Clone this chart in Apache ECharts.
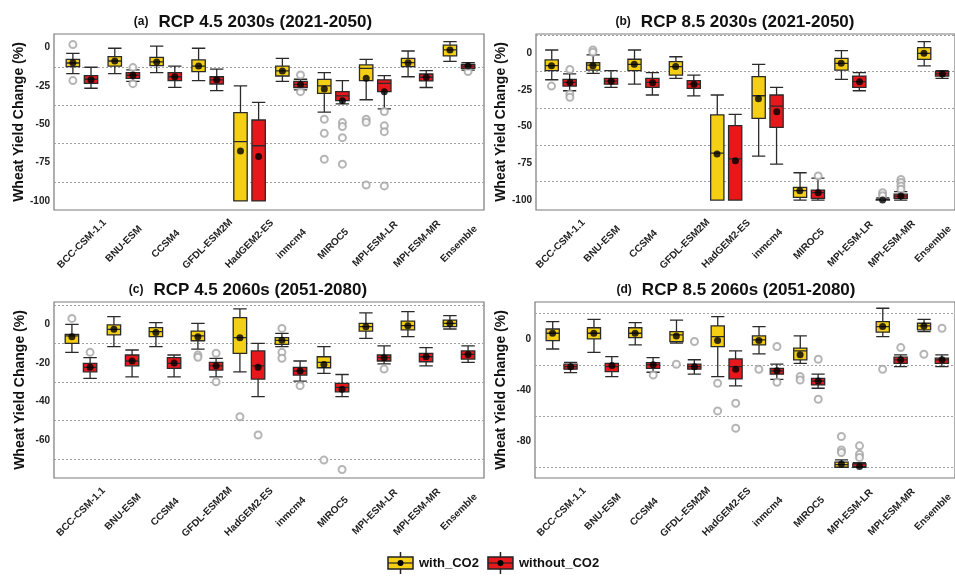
<!DOCTYPE html>
<html>
<head>
<meta charset="utf-8">
<title>Wheat Yield Change</title>
<script src="https://cdn.jsdelivr.net/npm/echarts@6/dist/echarts.min.js"></script>
<style>
html, body { margin: 0; padding: 0; background: #fff; }
#main { width: 955px; height: 579px; }
</style>
</head>
<body>
<div id="main"></div>
<script>
// GCMs on the x axis
const models = ['BCC-CSM-1.1', 'BNU-ESM', 'CCSM4', 'GFDL-ESM2M', 'HadGEM2-ES', 'inmcm4', 'MIROC5', 'MPI-ESM-LR', 'MPI-ESM-MR', 'Ensemble'];

// boxes are [min, Q1, median, Q3, max], outliers are [modelIndex, value]
// (a) RCP 4.5 2030s
const boxWithA = [[-17, -12.4, -10, -7.6, -3.7], [-17, -12, -8.7, -5.9, -0.4], [-16.3, -11.7, -9.3, -6.3, 1], [-21.5, -15.6, -12, -8, -0.4], [-100, -100, -61.3, -42.4, -25], [-22, -18.5, -15.2, -12, -7], [-42, -29.8, -25, -20.7, -16.3], [-34, -21.5, -13.5, -11.3, -7.6], [-19, -12.4, -9.8, -7, -2.2], [-9, -5.4, -1.5, 1.7, 3.9]];
const boxWithoutA = [[-26.5, -23.3, -20.6, -18.3, -12.8], [-22, -20, -18, -16.3, -14.5], [-25.9, -21.5, -19, -16.3, -12], [-28, -23.7, -21, -19, -14], [-100, -100, -64, -47.2, -35.7], [-27.6, -26, -24, -22, -20.6], [-36.7, -34.6, -31.5, -28.7, -21.5], [-40, -28.7, -23.3, -21, -18.3], [-26, -21.7, -19.3, -17.2, -15], [-14.6, -13.5, -12, -10.9, -9.8]];
const meanWithA = [-9.8, -8.7, -9.3, -12, -67.4, -15.2, -27, -20, -9.8, -1.5];
const meanWithoutA = [-21, -18, -19, -21, -71, -24, -34.6, -28.7, -19.3, -12];
const outWithA = [[0, 2], [0, -21.5], [6, -46.7], [6, -55.9], [6, -72.8], [7, -46.7], [7, -48.7], [7, -89.6]];
const outWithoutA = [[1, -13], [1, -23.5], [5, -17.8], [5, -28.7], [6, -48.9], [6, -51.5], [6, -58.7], [6, -76], [7, -41.7], [7, -51], [7, -54.8], [7, -90.2], [9, -15.6]];

// (b) RCP 8.5 2030s
const boxWithB = [[-18, -11.8, -8.4, -4.5, 2.3], [-13.6, -11.4, -8, -6.4, -1.1], [-21, -11.8, -7.5, -4, 2.3], [-17, -14.8, -9, -5.7, -2.3], [-100, -100, -68, -42, -28.4], [-70, -44.3, -28.9, -15.9, -7.5], [-100, -98.2, -93.6, -91.4, -81.4], [-17.7, -11.4, -6.8, -3.4, 1.8], [-100, -100, -100, -99.5, -98.5], [-8.6, -4.1, 0, 3.9, 8]];
const boxWithoutB = [[-25.5, -22.3, -19.8, -17.7, -14], [-23.2, -21, -18.9, -17, -11.8], [-28.4, -23.2, -19.8, -17, -13.2], [-29, -23.9, -21, -18.6, -14.8], [-100, -100, -72, -49.3, -41.6], [-75.5, -50.5, -36, -28.4, -23.2], [-100, -98.9, -95, -93.2, -85], [-25.5, -23.2, -19.3, -15.5, -13.2], [-100, -98.9, -97.3, -96, -94.3], [-17, -15.5, -14, -12.5, -11.8]];
const meanWithB = [-8.4, -8.4, -7.5, -9, -68.6, -31, -93.6, -6.8, -100, 0];
const meanWithoutB = [-19.8, -19, -20, -21, -73.2, -39.8, -95, -19.3, -97.3, -14];
const outWithB = [[0, -22.3], [1, 2.3], [1, 0.7], [8, -95], [8, -97]];
const outWithoutB = [[0, -11], [0, -27.7], [0, -30], [6, -83.6], [8, -86], [8, -88], [8, -90.5], [8, -92.7]];

// (c) RCP 4.5 2060s
const boxWithC = [[-14.5, -9.9, -6, -5.2, 0], [-11.6, -5.5, -2.6, -0.3, 4], [-11.6, -6.4, -3.8, -1.7, 0.9], [-12.8, -8.5, -6, -3.5, 0.5], [-24.6, -15, -6.9, 3.5, 8], [-11.6, -10.4, -8.3, -6.9, -4.7], [-25.4, -22.5, -19.7, -16.8, -11.6], [-7.3, -3.5, -1.2, 0.5, 6], [-6.4, -2.9, -0.7, 1.7, 6.6], [-2.4, -1.2, 0.5, 2.2, 4.5]];
const boxWithoutC = [[-28, -24.6, -22.3, -20.2, -17.3], [-27.2, -21.5, -19, -15.9, -13.3], [-27.2, -22.8, -20.2, -17.3, -15.9], [-27.2, -23.7, -21.5, -19.7, -17.6], [-37.5, -28.4, -21.5, -13.8, -9.9], [-29.4, -26.3, -24.2, -22.3, -19], [-37.5, -35, -32.7, -30.6, -26], [-20.5, -19, -17.3, -15.9, -11.2], [-21.5, -19.4, -16.8, -15, -12.1], [-19.7, -18, -15.6, -13.8, -11.2]];
const meanWithC = [-6.4, -2.6, -4.2, -6.4, -6.9, -8.3, -20.8, -1.2, -0.7, 0.5];
const meanWithoutC = [-22.3, -19, -20, -21.5, -22.3, -24.2, -33.7, -17.3, -16.8, -15.6];
const outWithC = [[0, 3.1], [3, -15.9], [3, -17.1], [4, -47.9], [5, -2.1], [5, -14.5], [5, -17.6], [6, -70.4]];
const outWithoutC = [[0, -14.5], [3, -15], [3, -29.8], [4, -57.4], [5, -31.8], [6, -75.3], [7, -23.2]];

// (d) RCP 8.5 2060s
const boxWithD = [[-7.6, -1, 4.7, 8, 13.8], [-10.2, 0.3, 4.7, 9, 15.6], [-4.4, 1.3, 4.7, 9, 13], [-3.1, -1.8, 3.4, 6, 15], [-29.2, -5.7, 2.1, 10.4, 17.7], [-11.5, -4.4, -0.5, 2.6, 9.9], [-18.8, -16.1, -9.1, -7, 2.6], [-100, -100, -98, -96, -94.3], [2.1, 5.5, 9.9, 13.8, 24.2], [6, 7.3, 10.4, 12.5, 15.6]];
const boxWithoutD = [[-26, -23.4, -21.4, -19.5, -18], [-29.2, -25.3, -21.4, -18.8, -13.5], [-25.8, -22.7, -20, -18.2, -14.3], [-27.3, -23.4, -21.4, -19.5, -16], [-36.5, -31, -21.4, -15.4, -9.1], [-31.3, -27.3, -24.7, -22.7, -19.5], [-38.3, -35.7, -32.6, -30.5, -27.3], [-100, -100, -99.5, -97.4, -96.4], [-21.4, -18.8, -16.1, -14, -12.2], [-21.4, -18.8, -16.1, -14.8, -12.2]];
const meanWithD = [4.7, 4.7, 4.7, 2.6, -1, -1, -12.2, -97.4, 9.9, 10.4];
const meanWithoutD = [-21.4, -20.6, -20, -21.4, -23.4, -24.7, -32.6, -99.5, -16.1, -16.1];
const outWithD = [[3, -19.5], [4, -34.4], [4, -56], [5, -23.4], [6, -29.2], [6, -31.8], [7, -76], [7, -86.5], [7, -88.5], [8, -23.4], [9, -11.7]];
const outWithoutD = [[2, -27.9], [3, -1.8], [4, -50], [4, -69.5], [5, -5.7], [5, -33.6], [6, -15.6], [6, -46.9], [7, -83.3], [7, -89.8], [7, -92.4], [8, -6.5], [9, 8.6]];

// y tick labels and dotted grid lines
const ticksAB = [0, -25, -50, -75, -100];
const ticksC = [0, -20, -40, -60];
const ticksD = [0, -40, -80];
const gridLinesA = [-12.5, -37.5, -62.5, -87.5];
const gridLinesB = [12.5, -12.5, -37.5, -62.5, -87.5];
const gridLinesC = [10, -10, -30, -50, -70];
const gridLinesD = [20, -20, -60, -100];

const titles = ['RCP 4.5 2030s (2021-2050)', 'RCP 8.5 2030s (2021-2050)', 'RCP 4.5 2060s (2051-2080)', 'RCP 8.5 2060s (2051-2080)'];

const YELLOW = '#F5CF14';
const RED = '#E8171B';
const FONT = '"Liberation Sans", Arial, Helvetica, sans-serif';

const panels = [
    { tag: '(a)', title: titles[0], box: [boxWithA, boxWithoutA], mean: [meanWithA, meanWithoutA], out: [outWithA, outWithoutA], ticks: ticksAB, lines: gridLinesA, range: [-105.9, 8.9], frameLeft: 54, top: 34, plotLeft: 61, plotWidth: 419, titleX: 253 },
    { tag: '(b)', title: titles[1], box: [boxWithB, boxWithoutB], mean: [meanWithB, meanWithoutB], out: [outWithB, outWithoutB], ticks: ticksAB, lines: gridLinesB, range: [-106.8, 13.2], frameLeft: 536, top: 34, plotLeft: 540, plotWidth: 424, titleX: 735 },
    { tag: '(c)', title: titles[2], box: [boxWithC, boxWithoutC], mean: [meanWithC, meanWithoutC], out: [outWithC, outWithoutC], ticks: ticksC, lines: gridLinesC, range: [-79.7, 11.6], frameLeft: 54, top: 302, plotLeft: 60, plotWidth: 420, titleX: 248 },
    { tag: '(d)', title: titles[3], box: [boxWithD, boxWithoutD], mean: [meanWithD, meanWithoutD], out: [outWithD, outWithoutD], ticks: ticksD, lines: gridLinesD, range: [-108.4, 29.1], frameLeft: 535, top: 302, plotLeft: 541, plotWidth: 419, titleX: 736 }
];

// legend icon: little box with whisker, median and mean dot
const legendIcon = (fill) => {
    const svg = "<svg xmlns='http://www.w3.org/2000/svg' width='27' height='22'>" +
        "<line x1='13.5' y1='0' x2='13.5' y2='22' stroke='#222' stroke-width='1.5'/>" +
        "<rect x='1' y='5' width='25' height='12' fill='" + fill + "' stroke='#222' stroke-width='1.5'/>" +
        "<line x1='1' y1='11' x2='26' y2='11' stroke='#222' stroke-width='1.2'/>" +
        "<circle cx='13.5' cy='11' r='3' fill='#000'/></svg>";
    return 'image://data:image/svg+xml;charset=utf-8,' + encodeURIComponent(svg);
};

const getOption = () => {
    const grid = [], xAxis = [], yAxis = [], title = [], series = [];
    const n = panels.length;
    const names = ['with_CO2', 'without_CO2'];
    const fills = [YELLOW, RED];

    panels.forEach((p, i) => {
        // frame grid: border, y labels, dotted lines
        grid[i] = { left: p.frameLeft, top: p.top, width: 430, height: 176, show: true, borderColor: '#7a7a7a', borderWidth: 1.2 };
        xAxis[i] = { gridIndex: i, type: 'value', show: false, min: 0, max: 1 };
        yAxis[i] = {
            gridIndex: i, type: 'value', min: p.range[0], max: p.range[1],
            name: 'Wheat Yield Change (%)', nameLocation: 'middle', nameGap: 27,
            nameTextStyle: { fontSize: 14, fontWeight: 'bold', color: '#111' },
            axisLine: { show: false },
            axisTick: { show: false, customValues: p.lines },
            axisLabel: { customValues: p.ticks, fontSize: 10, fontWeight: 'bold', color: '#222', margin: 4 },
            splitLine: { show: true, lineStyle: { type: [2, 2], color: '#a0a0a0', width: 1 } }
        };
        // data grid: category positions
        grid[n + i] = { left: p.plotLeft, top: p.top, width: p.plotWidth, height: 176, show: false };
        xAxis[n + i] = {
            gridIndex: n + i, type: 'category', data: models,
            axisLine: { show: false }, axisTick: { show: false }, splitLine: { show: false },
            axisLabel: { interval: 0, rotate: 45, align: 'center', verticalAlign: 'middle', margin: 34, fontSize: 10, fontWeight: 'bold', color: '#222' }
        };
        yAxis[n + i] = { gridIndex: n + i, type: 'value', min: p.range[0], max: p.range[1], show: false };

        title.push({
            text: '{s|' + p.tag + '}  {b|' + p.title + '}',
            left: p.titleX, top: p.top - 21, textAlign: 'center', padding: 0,
            textStyle: { rich: { s: { fontSize: 12, fontWeight: 'bold', color: '#111', fontFamily: FONT }, b: { fontSize: 17, fontWeight: 'bold', color: '#111', fontFamily: FONT } } }
        });

        // same offsets boxplot uses for two series in a band
        const band = p.plotWidth / models.length;
        const avail = band * 0.8 - 2;
        const gap = avail / 2 * 0.3;
        const bw = (avail - gap) / 2;
        const off = (gap + bw) / 2;

        [0, 1].forEach((k) => {
            const sign = k === 0 ? -1 : 1;
            series.push({
                name: names[k], type: 'boxplot', xAxisIndex: n + i, yAxisIndex: n + i,
                data: p.box[k], z: 2,
                itemStyle: { color: fills[k], borderColor: '#2a2a2a', borderWidth: 1.3 },
                emphasis: { disabled: true }
            });
            series.push({
                name: names[k], type: 'scatter', xAxisIndex: n + i, yAxisIndex: n + i,
                data: p.out[k], symbol: 'emptyCircle', symbolSize: 7, symbolOffset: [sign * off, 0], z: 3,
                itemStyle: { color: '#a3a3a3', borderWidth: 1 },
                emphasis: { disabled: true }
            });
            series.push({
                name: names[k], type: 'scatter', xAxisIndex: n + i, yAxisIndex: n + i,
                data: p.mean[k].map((v, j) => [j, v]), symbol: 'circle', symbolSize: 7, symbolOffset: [sign * off, 0], z: 4,
                itemStyle: { color: '#000' },
                emphasis: { disabled: true }
            });
        });
    });

    return {
        animation: false,
        backgroundColor: '#fff',
        textStyle: { fontFamily: FONT },
        title: title,
        legend: {
            left: 387, top: 552, padding: 0, itemWidth: 27, itemHeight: 22, itemGap: 8,
            textStyle: { fontSize: 13, fontWeight: 'bold', color: '#111' },
            data: [{ name: 'with_CO2', icon: legendIcon(YELLOW) }, { name: 'without_CO2', icon: legendIcon(RED) }]
        },
        grid: grid,
        xAxis: xAxis,
        yAxis: yAxis,
        series: series
    };
};

const chartDom = document.getElementById('main');
const myChart = echarts.init(chartDom, null, { renderer: 'canvas' });
myChart.setOption(getOption());
</script>
</body>
</html>
